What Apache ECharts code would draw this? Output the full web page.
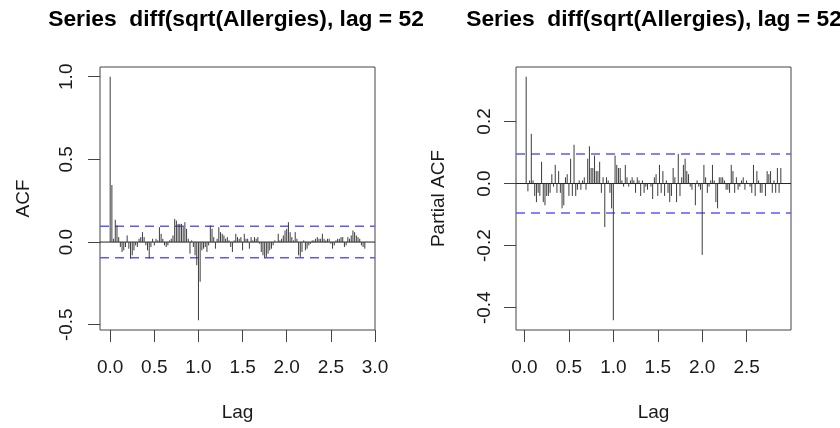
<!DOCTYPE html>
<html>
<head>
<meta charset="utf-8">
<script src="https://cdn.jsdelivr.net/npm/echarts@6/dist/echarts.min.js"></script>
<style>
  html, body { margin: 0; padding: 0; background: #ffffff; }
  #chart { width: 840px; height: 428px; }
</style>
</head>
<body>
<div id="chart"></div>
<script>
// ---------- data ----------
const FREQ = 52; // lags are measured in years (weekly series)
const titleText = 'Series  diff(sqrt(Allergies), lag = 52';

// ACF, lags k = 0..150
const acfValues = [
  1.0, 0.345, 0.02, 0.135, 0.10, 0.03, -0.03, -0.06, -0.05, -0.03,
  0.04, -0.04, -0.10, -0.08, -0.05, -0.02, -0.03, 0.02, 0.03, 0.06,
  0.03, -0.02, -0.05, -0.10, -0.03, 0.02, -0.02, 0.02, 0.01, 0.09,
  0.05, 0.02, -0.02, -0.03, -0.02, 0.01, 0.02, 0.04, 0.14, 0.13,
  0.11, 0.11, 0.11, 0.09, 0.12, 0.08, 0.02, -0.07, 0.01, -0.03,
  -0.08, -0.14, -0.473, -0.24, -0.05, -0.04, -0.03, -0.06, -0.02, 0.10,
  0.08, 0.03, -0.04, 0.02, 0.09, 0.06, 0.05, 0.04, 0.02, 0.03,
  0.01, -0.03, -0.06, 0.01, 0.05, 0.03, 0.02, 0.03, -0.05, 0.05,
  0.02, 0.02, -0.04, 0.03, 0.01, 0.03, 0.02, 0.03, -0.01, -0.06,
  -0.08, -0.10, -0.09, -0.07, -0.05, -0.04, -0.02, 0.01, 0.00, 0.05,
  0.01, 0.02, 0.04, 0.07, 0.08, 0.12, 0.06, 0.03, 0.01, 0.06,
  0.02, -0.08, -0.09, -0.06, 0.01, -0.05, -0.04, -0.02, -0.01, 0.01,
  0.01, 0.02, 0.03, 0.02, 0.02, 0.05, 0.02, 0.01, 0.02, 0.02,
  -0.01, -0.04, -0.02, 0.01, 0.02, 0.02, 0.03, 0.03, -0.03, -0.02,
  0.03, 0.02, 0.04, 0.07, 0.06, 0.04, 0.03, 0.02, -0.02, -0.03,
  -0.04
];

// PACF, lags k = 1..150
const pacfValues = [
  0.344, -0.025, 0.01, 0.16, 0.01, -0.04, -0.06, -0.03, -0.04, 0.07,
  -0.06, -0.07, -0.04, -0.04, -0.03, 0.03, -0.01, 0.06, -0.03, 0.04,
  -0.03, -0.08, -0.07, 0.02, 0.03, -0.04, 0.08, -0.04, 0.125, -0.04,
  -0.02, 0.01, -0.02, 0.01, 0.02, -0.02, 0.08, 0.12, 0.05, 0.05,
  0.09, 0.04, 0.04, 0.07, -0.03, 0.02, -0.14, 0.02, 0.01, -0.03,
  -0.08, -0.4405, 0.09, 0.06, 0.05, 0.05, 0.01, -0.01, 0.06, 0.02,
  -0.01, 0.01, 0.02, 0.01, -0.03, 0.02, 0.01, -0.04, 0.01, -0.03,
  -0.01, -0.02, 0.00, -0.01, -0.05, 0.02, 0.03, -0.04, 0.06, -0.03,
  0.04, -0.04, 0.01, -0.03, -0.06, -0.04, 0.05, 0.02, -0.06, 0.095,
  -0.04, 0.02, 0.06, 0.08, 0.04, 0.03, -0.01, -0.02, 0.00, -0.07,
  0.01, -0.01, -0.02, -0.23, 0.06, 0.02, -0.03, -0.01, 0.01, 0.06,
  0.01, -0.06, -0.08, 0.02, 0.02, 0.02, 0.01, -0.02, -0.02, -0.03,
  0.06, 0.04, -0.03, 0.02, -0.02, -0.01, 0.01, 0.02, -0.02, 0.01,
  0.00, -0.01, -0.03, 0.06, -0.04, 0.04, 0.01, -0.03, -0.03, 0.00,
  -0.04, 0.04, 0.03, 0.04, -0.03, 0.01, -0.03, 0.05, -0.03, 0.05
];

const ciBound = 0.095; // approximate 95% white-noise bound

const xTicksAcf = [0, 0.5, 1.0, 1.5, 2.0, 2.5, 3.0];
const xTicksPacf = [0, 0.5, 1.0, 1.5, 2.0, 2.5];
const yTicksAcf = [-0.5, 0.0, 0.5, 1.0];
const yTicksPacf = [-0.4, -0.2, 0.0, 0.2];

// ---------- build ----------
const acfPoints = acfValues.map((v, k) => [k / FREQ, v]);
const pacfPoints = pacfValues.map((v, i) => [(i + 1) / FREQ, v]);

function paddedRange(vals) {           // R style 4% extension
  const lo = Math.min(...vals), hi = Math.max(...vals);
  const pad = (hi - lo) * 0.04;
  return [lo - pad, hi + pad];
}
const acfX = paddedRange(acfPoints.map(p => p[0]));
const acfY = paddedRange(acfValues.concat([ciBound, -ciBound]));
const pacfX = paddedRange(pacfPoints.map(p => p[0]));
const pacfY = paddedRange(pacfValues.concat([ciBound, -ciBound]));

const FONT = "'Liberation Sans', Arial, Helvetica, sans-serif";
const TXT = '#1a1a1a';
const BOX = '#444444';

function renderSpike(params, api) {
  const x = api.value(0), y = api.value(1);
  const p0 = api.coord([x, 0]);
  const p1 = api.coord([x, y]);
  return {
    type: 'line',
    shape: { x1: p0[0], y1: p0[1], x2: p1[0], y2: p1[1] },
    style: { stroke: '#3c3c3c', lineWidth: 1 }
  };
}

function xAxisCfg(gi, range, ticks) {
  return {
    gridIndex: gi, type: 'value', min: range[0], max: range[1],
    axisLine: { show: false, onZero: false },
    axisTick: { show: true, inside: false, length: 12, customValues: ticks,
                lineStyle: { color: BOX, width: 1 } },
    axisLabel: { customValues: ticks, formatter: v => v.toFixed(1),
                 fontSize: 19, fontFamily: FONT, color: TXT, margin: 28 },
    splitLine: { show: false },
    name: 'Lag', nameLocation: 'middle', nameGap: 73,
    nameTextStyle: { fontSize: 19, fontFamily: FONT, color: TXT }
  };
}
function yAxisCfg(gi, range, ticks, name, margin, gap) {
  return {
    gridIndex: gi, type: 'value', min: range[0], max: range[1],
    axisLine: { show: false, onZero: false },
    axisTick: { show: true, inside: false, length: 12, customValues: ticks,
                lineStyle: { color: BOX, width: 1 } },
    axisLabel: { customValues: ticks, formatter: v => v.toFixed(1), rotate: 90,
                 fontSize: 19, fontFamily: FONT, color: TXT, margin: margin },
    splitLine: { show: false },
    name: name, nameLocation: 'middle', nameGap: gap,
    nameTextStyle: { fontSize: 19, fontFamily: FONT, color: TXT }
  };
}
function hLine(gi, xr, yv, dashed) {
  return {
    type: 'line', xAxisIndex: gi, yAxisIndex: gi,
    data: [[xr[0], yv], [xr[1], yv]],
    showSymbol: false, symbol: 'none', silent: true,
    lineStyle: dashed ? { color: '#5a5aff', width: 1.5, type: [9, 6] }
                      : { color: '#222222', width: 1 },
    z: dashed ? 3 : 2
  };
}

const chart = echarts.init(document.getElementById('chart'), null, { renderer: 'canvas' });
chart.setOption({
  animation: false,
  backgroundColor: '#ffffff',
  title: [
    { text: titleText, left: 231, top: 3, textAlign: 'center',
      textStyle: { fontSize: 22.8, fontWeight: 'bold', fontFamily: FONT, color: '#000' } },
    { text: titleText, left: 649, top: 3, textAlign: 'center',
      textStyle: { fontSize: 22.8, fontWeight: 'bold', fontFamily: FONT, color: '#000' } }
  ],
  grid: [
    { left: 100, top: 67, width: 275, height: 263, show: true, borderColor: BOX, borderWidth: 1, backgroundColor: 'transparent' },
    { left: 516, top: 67, width: 275, height: 263, show: true, borderColor: BOX, borderWidth: 1, backgroundColor: 'transparent' }
  ],
  xAxis: [ xAxisCfg(0, acfX, xTicksAcf), xAxisCfg(1, pacfX, xTicksPacf) ],
  yAxis: [ yAxisCfg(0, acfY, yTicksAcf, 'ACF', 24, 67),
           yAxisCfg(1, pacfY, yTicksPacf, 'Partial ACF', 22, 68) ],
  series: [
    hLine(0, acfX, 0, false),
    hLine(0, acfX, ciBound, true),
    hLine(0, acfX, -ciBound, true),
    { type: 'custom', xAxisIndex: 0, yAxisIndex: 0, renderItem: renderSpike,
      data: acfPoints, encode: { x: 0, y: 1 }, silent: true, z: 4 },
    hLine(1, pacfX, 0, false),
    hLine(1, pacfX, ciBound, true),
    hLine(1, pacfX, -ciBound, true),
    { type: 'custom', xAxisIndex: 1, yAxisIndex: 1, renderItem: renderSpike,
      data: pacfPoints, encode: { x: 0, y: 1 }, silent: true, z: 4 }
  ]
});
</script>
</body>
</html>
